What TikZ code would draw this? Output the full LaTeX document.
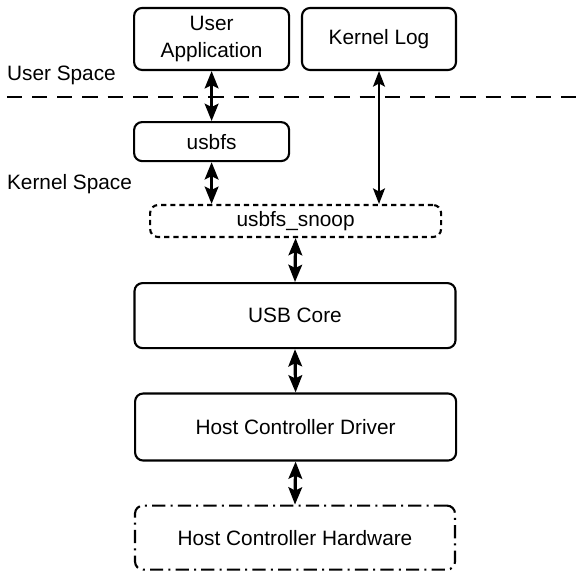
\documentclass[tikz,border=0pt]{standalone}
\usepackage{fontspec}
\setmainfont{Liberation Sans}
\usetikzlibrary{arrows.meta, positioning, calc}

\tikzset{
  layer/.style={draw=black, line width=1.5pt, rounded corners=0.2cm,
    align=center, inner sep=0pt, font=\fontsize{14.8}{19.5}\selectfont},
  snoopbox/.style={layer, dash pattern=on 0.13cm off 0.1cm},
  hwbox/.style={layer, dash pattern=on 0.33cm off 0.13cm on 0.05cm off 0.13cm},
  biarrow/.style={{Stealth[length=4.3mm, width=3.4mm, inset=0.8mm]}-{Stealth[length=4.3mm, width=3.4mm, inset=0.8mm]}, line width=2.3pt},
  logarrow/.style={{Stealth[length=3.9mm, width=3mm, inset=0.8mm]}-{Stealth[length=3.9mm, width=3mm, inset=0.8mm]}, line width=1.4pt},
  spacelabel/.style={anchor=west, inner sep=0pt, font=\fontsize{14.8}{17}\selectfont},
}

\begin{document}
\begin{tikzpicture}

% Frame
\useasboundingbox (0,0) rectangle (14.475,-14.325);

% User space
\node[layer, minimum width=3.875cm, minimum height=1.55cm] (app) at (5.29,-0.975)
  {User\\Application};
\node[layer, minimum width=3.85cm, minimum height=1.55cm] (klog) at (9.475,-0.975)
  {Kernel Log};
\node[spacelabel] (userspace) at (0.17,-1.875) {User Space};

% Boundary
\draw[line width=1.5pt, dash pattern=on 0.38cm off 0.25cm] (0.17,-2.425) -- (14.475,-2.425);

% Kernel space
\node[spacelabel] (kernelspace) at (0.17,-4.6) {Kernel Space};
\node[layer, minimum width=3.875cm, minimum height=0.975cm] (usbfs) at (5.29,-3.54)
  {usbfs};
\node[snoopbox, minimum width=7.275cm, minimum height=0.8cm] (snoop) at (7.39,-5.525)
  {usbfs\_snoop};
\node[layer, minimum width=8.025cm, minimum height=1.625cm] (core) at (7.375,-7.89)
  {USB Core};
\node[layer, minimum width=8.025cm, minimum height=1.675cm] (hcd) at (7.39,-10.675)
  {Host Controller Driver};
\node[hwbox, minimum width=8.0cm, minimum height=1.6cm] (hch) at (7.375,-13.44)
  {Host Controller Hardware};

% Connections
\draw[biarrow] (app.south) -- (usbfs.north);
\draw[biarrow] (usbfs.south) -- (usbfs.south |- snoop.north);
\draw[logarrow] (klog.south) -- (klog.south |- snoop.north);
\draw[biarrow] (snoop.south) -- (core.north);
\draw[biarrow] (core.south) -- (hcd.north);
\draw[biarrow] (hcd.south) -- (hch.north);

\end{tikzpicture}
\end{document}
